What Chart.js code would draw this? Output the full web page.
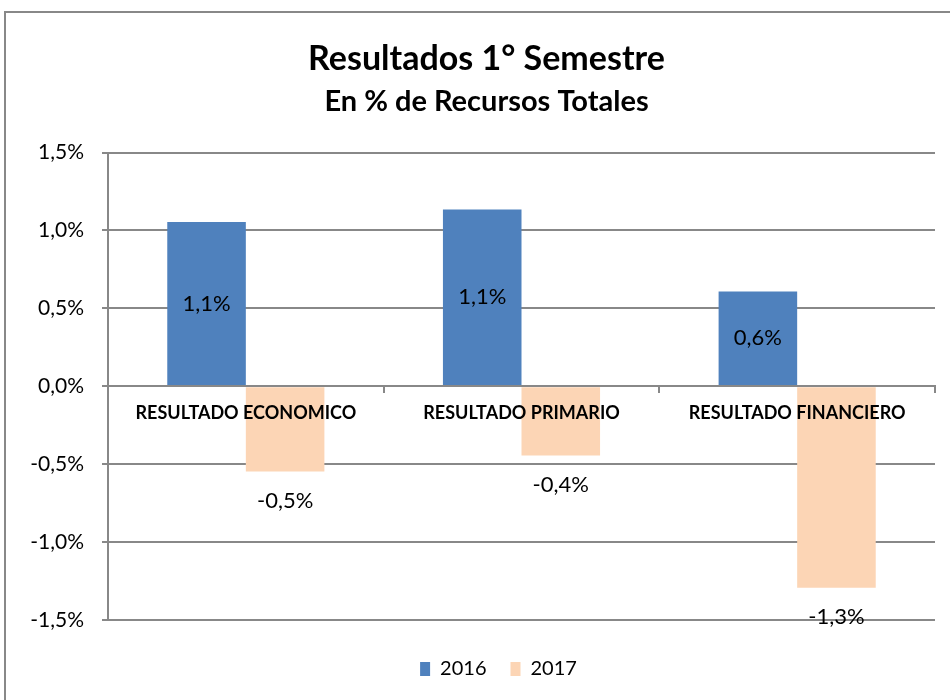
<!DOCTYPE html>
<html>
<head>
<meta charset="utf-8">
<script src="https://cdn.jsdelivr.net/npm/chart.js@4.4.1/dist/chart.umd.min.js"></script>
<style>
  html, body { margin: 0; padding: 0; background: #fff; }
  #wrap { width: 950px; height: 700px; }
</style>
</head>
<body>
<div id="wrap"><canvas id="myChart" width="950" height="700"></canvas></div>
<script>
// Datos
const categorias = ['RESULTADO ECONOMICO', 'RESULTADO PRIMARIO', 'RESULTADO FINANCIERO'];
const serie2016 = [1.055, 1.135, 0.608];
const serie2017 = [-0.548, -0.445, -1.294];
const yTicks = [-1.5, -1.0, -0.5, 0, 0.5, 1.0, 1.5];

const fuente = 'Lato, "Open Sans", sans-serif';
const gris = '#888888';

function pct(v) {
  return (Math.round(v * 10) / 10).toFixed(1).replace('.', ',').replace('-0,0', '0,0') + '%';
}

// marco gris alrededor del grafico
const marco = {
  id: 'marco',
  beforeDraw(chart) {
    const c = chart.ctx;
    c.save();
    c.fillStyle = '#fff';
    c.fillRect(0, 0, chart.width, chart.height);
    c.strokeStyle = gris;
    c.lineWidth = 2;
    c.strokeRect(5, 12, chart.width + 20, chart.height + 20);
    c.restore();
  },
  // titulos y leyenda un poco corridos a la derecha, como en el original
  afterLayout(chart) {
    chart.boxes.forEach(b => {
      if (b === chart.legend) {
        b.left += 31;
        b.right += 31;
      } else if (!b.axis && b.options && b.options.text) {
        b.left += 19;
        b.right += 19;
      }
    });
  }
};

// etiquetas de valores
const etiquetas = {
  id: 'etiquetas',
  afterDatasetsDraw(chart) {
    const c = chart.ctx;
    c.save();
    c.font = '22px ' + fuente;
    c.fillStyle = '#000';
    c.textAlign = 'center';
    c.textBaseline = 'middle';
    chart.data.datasets.forEach((ds, i) => {
      chart.getDatasetMeta(i).data.forEach((bar, j) => {
        const v = ds.data[j];
        let y;
        if (i === 0) {
          y = (bar.y + bar.base) / 2;
        } else {
          y = bar.y + 29;
        }
        c.fillText(pct(v), bar.x, y);
      });
    });
    c.restore();
  }
};

const ctx = document.getElementById('myChart').getContext('2d');
const myChart = new Chart(ctx, {
  type: 'bar',
  data: {
    labels: categorias,
    datasets: [{
      label: '2016',
      data: serie2016,
      backgroundColor: '#4F81BD'
    }, {
      label: '2017',
      data: serie2017,
      backgroundColor: '#FCD5B5'
    }]
  },
  options: {
    responsive: false,
    animation: false,
    layout: { padding: { left: 0, right: 15, top: 0, bottom: 11 } },
    datasets: {
      bar: { categoryPercentage: 0.57, barPercentage: 1.0 }
    },
    scales: {
      x: {
        position: { y: 0 },
        grid: {
          display: true,
          drawOnChartArea: false,
          drawTicks: true,
          tickLength: 6,
          color: gris,
          lineWidth: 2,
          z: 1
        },
        border: { color: gris, width: 2, z: 1 },
        ticks: {
          color: '#000',
          padding: 10,
          z: 1,
          font: { family: fuente, size: 18, weight: 'bold' },
          maxRotation: 0,
          autoSkip: false
        }
      },
      y: {
        min: -1.5,
        max: 1.5,
        afterBuildTicks(scale) {
          scale.ticks = yTicks.map(v => ({ value: v }));
        },
        afterFit(scale) {
          scale.width = 108;
        },
        grid: {
          color: gris,
          lineWidth: 2,
          tickLength: 6
        },
        border: { color: gris, width: 2 },
        ticks: {
          color: '#000',
          padding: 18,
          font: { family: fuente, size: 21 },
          callback: v => pct(v)
        }
      }
    },
    plugins: {
      title: {
        display: true,
        text: 'Resultados 1° Semestre',
        color: '#000',
        font: { family: fuente, size: 34, weight: 'bold' },
        padding: { top: 39, bottom: 4 }
      },
      subtitle: {
        display: true,
        text: 'En % de Recursos Totales',
        color: '#000',
        font: { family: fuente, size: 29, weight: 'bold' },
        padding: { top: 0, bottom: 34 }
      },
      legend: {
        position: 'bottom',
        title: {
          display: true,
          text: ' ',
          font: { size: 1 },
          padding: { top: 14, bottom: 0 }
        },
        labels: {
          color: '#000',
          boxWidth: 10,
          boxHeight: 14,
          padding: 24,
          font: { family: fuente, size: 20 }
        }
      },
      tooltip: { enabled: false }
    }
  },
  plugins: [marco, etiquetas]
});
</script>
</body>
</html>
